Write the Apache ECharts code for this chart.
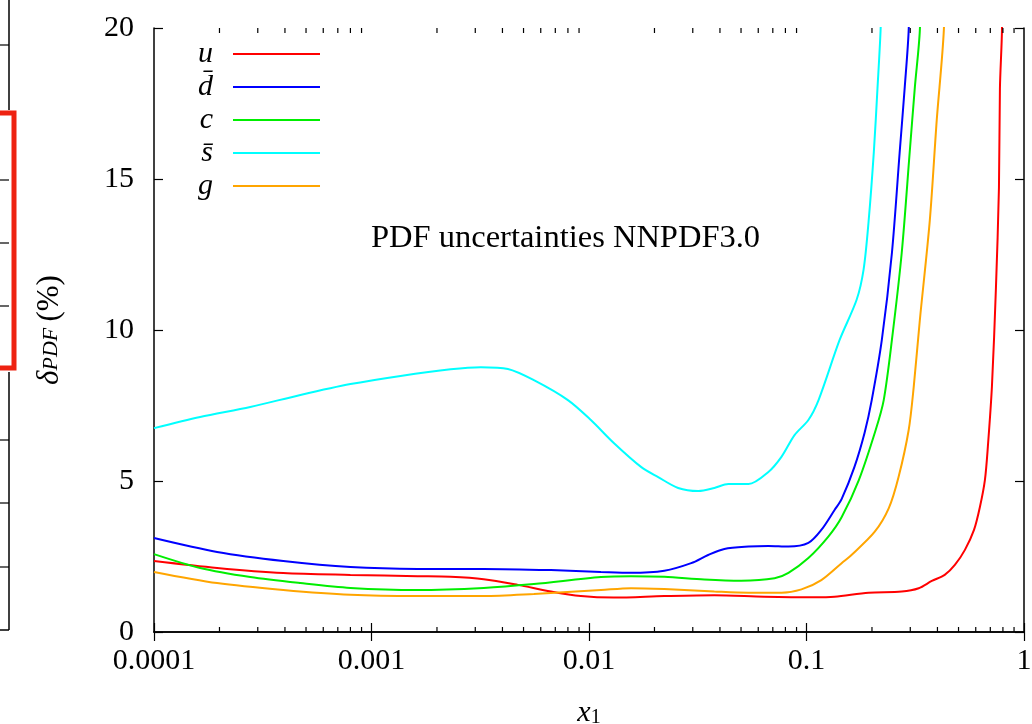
<!DOCTYPE html>
<html>
<head>
<meta charset="utf-8">
<script src="https://cdn.jsdelivr.net/npm/echarts@6/dist/echarts.min.js"></script>
<style>
html,body{margin:0;padding:0;background:#fff;}
#chart{width:1032px;height:724px;}
</style>
</head>
<body>
<div id="chart"></div>
<script>
// ---- data ----
var xTickLabels = ['0.0001', '0.001', '0.01', '0.1', '1'];
var yTicks = [0, 5, 10, 15, 20];
var seriesNames = ['u', 'd\u0304', 'c', 's\u0304', 'g'];
var seriesColors = ['#ff0000', '#0000ff', '#00ee00', '#00ffff', '#ffa500'];

var uX = [1e-4, 1.95e-4, 3.93e-4, 8.0e-4, 1.63e-3, 2.31e-3, 3.28e-3, 4.71e-3, 6.68e-3, 9.18e-3, 0.0130, 0.0222, 0.0377, 0.0640, 0.1089, 0.1346, 0.193, 0.274, 0.328, 0.377, 0.432, 0.481, 0.535, 0.589, 0.627, 0.661, 0.682, 0.712, 0.743, 0.767, 0.775, 0.792, 0.800];
var uY = [2.35, 2.12, 1.95, 1.89, 1.85, 1.83, 1.75, 1.56, 1.34, 1.19, 1.14, 1.19, 1.22, 1.17, 1.15, 1.17, 1.30, 1.34, 1.45, 1.69, 1.89, 2.22, 2.72, 3.38, 4.14, 5.03, 6.13, 8.12, 11.4, 14.7, 18.0, 19.93, 24];

var dX = [1e-4, 1.95e-4, 3.93e-4, 8.0e-4, 1.63e-3, 3.28e-3, 6.68e-3, 0.01135, 0.0156, 0.0222, 0.0295, 0.0353, 0.0419, 0.0541, 0.0668, 0.0826, 0.102, 0.117, 0.1346, 0.145, 0.166, 0.185, 0.1995, 0.222, 0.247, 0.268, 0.283, 0.295, 0.305];
var dY = [3.11, 2.65, 2.35, 2.15, 2.09, 2.09, 2.05, 1.99, 1.96, 2.03, 2.28, 2.55, 2.75, 2.83, 2.85, 2.83, 2.95, 3.38, 4.04, 4.4, 5.46, 6.6, 7.68, 9.67, 12.55, 15.86, 18.05, 19.93, 24];

var cX = [1e-4, 1.63e-4, 2.77e-4, 4.71e-4, 8.0e-4, 1.63e-3, 3.28e-3, 5.58e-3, 0.01135, 0.0156, 0.0222, 0.0339, 0.0501, 0.0713, 0.0826, 0.102, 0.126, 0.145, 0.174, 0.208, 0.2265, 0.247, 0.274, 0.298, 0.315, 0.332, 0.343];
var cY = [2.58, 2.12, 1.82, 1.62, 1.46, 1.39, 1.46, 1.59, 1.82, 1.85, 1.83, 1.74, 1.70, 1.78, 1.96, 2.45, 3.16, 3.8, 5.03, 6.69, 7.68, 9.67, 12.55, 15.86, 18.05, 19.93, 24];

var sX = [1e-4, 1.63e-4, 2.77e-4, 4.71e-4, 8.0e-4, 1.36e-3, 2.31e-3, 3.18e-3, 4.24e-3, 5.58e-3, 8.0e-3, 0.0102, 0.0130, 0.0174, 0.0208, 0.0257, 0.0318, 0.0377, 0.0437, 0.0541, 0.0668, 0.0767, 0.0881, 0.102, 0.1136, 0.142, 0.170, 0.183, 0.193, 0.204, 0.212, 0.219, 0.229];
var sY = [6.75, 7.12, 7.45, 7.85, 8.21, 8.48, 8.70, 8.77, 8.71, 8.34, 7.68, 7.02, 6.26, 5.46, 5.13, 4.77, 4.67, 4.77, 4.90, 4.90, 5.30, 5.80, 6.52, 7.02, 7.68, 9.67, 11.0, 12.0, 13.6, 15.9, 18.0, 19.9, 24];

var gX = [1e-4, 1.95e-4, 3.93e-4, 8.0e-4, 1.63e-3, 3.28e-3, 5.58e-3, 0.01135, 0.0156, 0.0222, 0.0377, 0.0541, 0.0767, 0.0948, 0.117, 0.145, 0.161, 0.206, 0.239, 0.265, 0.295, 0.311, 0.332, 0.369, 0.397, 0.428, 0.442];
var gY = [1.99, 1.62, 1.39, 1.23, 1.19, 1.19, 1.26, 1.39, 1.45, 1.42, 1.34, 1.30, 1.30, 1.41, 1.72, 2.28, 2.55, 3.32, 4.1, 5.13, 6.69, 8.1, 10.33, 13.64, 16.95, 19.93, 24];

var minorTickX = [];
[1e-4, 1e-3, 1e-2, 1e-1].forEach(function (dec) {
  for (var k = 2; k <= 9; k++) minorTickX.push(dec * k);
});

function pairs(xs, ys) { return xs.map(function (x, i) { return [x, ys[i]]; }); }
var allX = [uX, dX, cX, sX, gX];
var allY = [uY, dY, cY, sY, gY];

var FONT = '"Liberation Serif", "DejaVu Serif", serif';

var lineSeries = seriesNames.map(function (n, i) {
  return {
    name: n,
    type: 'line',
    xAxisIndex: 0, yAxisIndex: 0,
    data: pairs(allX[i], allY[i]),
    symbol: 'none',
    showSymbol: false,
    smooth: 0.3,
    clip: true,
    lineStyle: { color: seriesColors[i], width: 2 },
    itemStyle: { color: seriesColors[i] },
    z: 3
  };
});

var minorSeries = {
  type: 'custom',
  xAxisIndex: 0, yAxisIndex: 0,
  data: minorTickX.map(function (x) { return [x, 0]; }),
  silent: true,
  clip: false,
  renderItem: function (params, api) {
    var x = api.value(0);
    var b = api.coord([x, 0]);
    var t = api.coord([x, 20]);
    var st = { stroke: '#000', lineWidth: 1.2 };
    return {
      type: 'group',
      children: [
        { type: 'line', shape: { x1: b[0], y1: b[1], x2: b[0], y2: b[1] - 5 }, style: st },
        { type: 'line', shape: { x1: t[0], y1: t[1], x2: t[0], y2: t[1] + 5 }, style: st }
      ]
    };
  },
  z: 4
};

var axisLineStyle = { show: true, lineStyle: { color: '#000', width: 1.5 } };
var tickStyle = { show: true, inside: true, length: 9, lineStyle: { color: '#000', width: 1.2 } };

var chart = echarts.init(document.getElementById('chart'), null, { renderer: 'canvas' });
chart.setOption({
  backgroundColor: '#fff',
  animation: false,
  title: {
    text: 'PDF uncertainties NNPDF3.0',
    left: 371, top: 222,
    padding: 0,
    textStyle: { fontFamily: FONT, fontSize: 32.5, fontWeight: 'normal', color: '#000' }
  },
  legend: {
    orient: 'vertical',
    left: 198, top: 39,
    padding: 0,
    align: 'right',
    icon: 'rect',
    itemWidth: 87, itemHeight: 2, itemGap: 3,
    data: seriesNames,
    selectedMode: false,
    textStyle: { fontFamily: FONT, fontStyle: 'italic', fontSize: 30, lineHeight: 30, color: '#000', padding: [0, 15, 0, 0] }
  },
  grid: { left: 154, right: 8, top: 28, bottom: 92, containLabel: false, outerBoundsMode: 'none' },
  xAxis: [{
    type: 'log', logBase: 10, min: 1e-4, max: 1,
    position: 'bottom',
    name: '{x|x}{s|1}',
    nameLocation: 'middle', nameGap: 66,
    nameTextStyle: {
      rich: {
        x: { fontFamily: FONT, fontStyle: 'italic', fontSize: 30, lineHeight: 30, verticalAlign: 'top' },
        s: { fontFamily: FONT, fontSize: 20, lineHeight: 22, verticalAlign: 'bottom' }
      }
    },
    axisLine: axisLineStyle, axisTick: tickStyle,
    splitLine: { show: false }, minorTick: { show: false },
    axisLabel: {
      margin: 14, color: '#000', fontFamily: FONT, fontSize: 30,
      formatter: function (v) { return xTickLabels[Math.round(Math.log10(v)) + 4]; }
    }
  }, {
    type: 'log', logBase: 10, min: 1e-4, max: 1,
    position: 'top',
    axisLine: axisLineStyle, axisTick: tickStyle,
    splitLine: { show: false }, axisLabel: { show: false }
  }],
  yAxis: [{
    type: 'value', min: 0, max: 20, interval: 5,
    position: 'left',
    name: '{d|\u03b4}{s|PDF}{n|\u2009(%)}',
    nameLocation: 'middle', nameRotate: 90, nameGap: 92,
    nameTextStyle: {
      rich: {
        d: { fontFamily: FONT, fontStyle: 'italic', fontSize: 31, lineHeight: 28, verticalAlign: 'top' },
        s: { fontFamily: FONT, fontStyle: 'italic', fontSize: 22, lineHeight: 16, verticalAlign: 'bottom' },
        n: { fontFamily: FONT, fontSize: 31, lineHeight: 28, verticalAlign: 'top' }
      }
    },
    axisLine: axisLineStyle, axisTick: tickStyle,
    splitLine: { show: false },
    axisLabel: {
      margin: 20, color: '#000', fontFamily: FONT, fontSize: 30,
      formatter: function (v) { return yTicks.indexOf(v) >= 0 ? String(v) : ''; }
    }
  }, {
    type: 'value', min: 0, max: 20, interval: 5,
    position: 'right',
    axisLine: axisLineStyle, axisTick: tickStyle,
    splitLine: { show: false }, axisLabel: { show: false }
  }],
  graphic: [
    // fragment of the neighbouring panel at the left edge
    { type: 'line', shape: { x1: 9, y1: 0, x2: 9, y2: 110 }, style: { stroke: '#000', lineWidth: 1.5 } },
    { type: 'line', shape: { x1: 9, y1: 372, x2: 9, y2: 630 }, style: { stroke: '#000', lineWidth: 1.5 } },
    { type: 'line', shape: { x1: 0, y1: 45, x2: 9, y2: 45 }, style: { stroke: '#000', lineWidth: 1.2 } },
    { type: 'line', shape: { x1: 0, y1: 180, x2: 9, y2: 180 }, style: { stroke: '#000', lineWidth: 1.2 } },
    { type: 'line', shape: { x1: 0, y1: 243, x2: 9, y2: 243 }, style: { stroke: '#000', lineWidth: 1.2 } },
    { type: 'line', shape: { x1: 0, y1: 306, x2: 9, y2: 306 }, style: { stroke: '#000', lineWidth: 1.2 } },
    { type: 'line', shape: { x1: 0, y1: 440, x2: 9, y2: 440 }, style: { stroke: '#000', lineWidth: 1.2 } },
    { type: 'line', shape: { x1: 0, y1: 503, x2: 9, y2: 503 }, style: { stroke: '#000', lineWidth: 1.2 } },
    { type: 'line', shape: { x1: 0, y1: 567, x2: 9, y2: 567 }, style: { stroke: '#000', lineWidth: 1.2 } },
    { type: 'line', shape: { x1: 0, y1: 630, x2: 9, y2: 630 }, style: { stroke: '#000', lineWidth: 1.5 } },
    { type: 'rect', shape: { x: -10, y: 113, width: 24, height: 255 }, style: { fill: 'none', stroke: '#ee2211', lineWidth: 5 } }
  ],
  series: lineSeries.concat([minorSeries])
});
</script>
</body>
</html>
